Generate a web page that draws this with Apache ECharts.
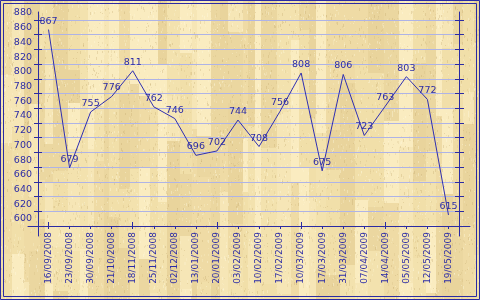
<!DOCTYPE html>
<html>
<head>
<meta charset="utf-8">
<script src="https://cdn.jsdelivr.net/npm/echarts@6/dist/echarts.min.js"></script>
<style>
html,body{margin:0;padding:0;}
#chart{width:480px;height:300px;}
</style>
</head>
<body>
<div id="chart"></div>
<script>
// ---- data ----
var categories = ['16/09/2008','23/09/2008','30/09/2008','21/10/2008','18/11/2008','25/11/2008','02/12/2008','13/01/2009','20/01/2009','03/02/2009','10/02/2009','17/02/2009','10/03/2009','17/03/2009','31/03/2009','07/04/2009','14/04/2009','05/05/2009','12/05/2009','19/05/2009'];
var values = [867, 679, 755, 776, 811, 762, 746, 696, 702, 744, 708, 756, 808, 675, 806, 723, 763, 803, 772, 615];
var yMin = 600, yMax = 880, yStep = 20;

// ---- decorative wood-like background ----
(function(){
  var c = document.createElement('canvas');
  c.width = 480; c.height = 300;
  var g = c.getContext('2d');
  var shades = ['#f1dfa9','#ebd7a0','#f6e6b6','#e9d49c','#faecc0','#efdba5','#f3e2ae'];
  g.fillStyle = '#f0dea8'; g.fillRect(0,0,480,300);
  var seed = 11;
  function h(){ seed = (seed * 1103515245 + 12345) % 2147483648; return seed / 2147483648; }
  var x = 0;
  while (x < 480) {
    var w = 5 + Math.floor(h()*12);
    var y = 0;
    while (y < 300) {
      var hh = 30 + Math.floor(h()*120);
      g.fillStyle = shades[Math.floor(h()*shades.length)];
      g.fillRect(x, y, w, hh);
      y += hh;
    }
    x += w;
  }
  for (var i = 0; i < 9000; i++) {
    g.fillStyle = h() < 0.5 ? 'rgba(190,160,100,0.15)' : 'rgba(255,250,225,0.22)';
    g.fillRect(Math.floor(h()*480), Math.floor(h()*300), 1, 1 + Math.floor(h()*3));
  }
  document.getElementById('chart').style.background = 'url(' + c.toDataURL() + ')';
})();

var dark = '#2b2ba3';
var txt = '#2c2ca6';
var font = 'DejaVu Sans';

var chart = echarts.init(document.getElementById('chart'), null, {renderer:'canvas'});
var yBase = {type:'value', min:yMin, max:yMax, interval:yStep, gridIndex:0,
  axisLabel:{show:false}, splitLine:{show:false}, axisLine:{show:false}};
chart.setOption({
  backgroundColor:'transparent',
  animation:false,
  grid:[
    {left:38, right:21, top:20, bottom:74},
    {left:28, right:10, top:20, bottom:74},
    {left:38, right:21, top:12, bottom:64}
  ],
  xAxis:[
    {type:'category', data:categories, gridIndex:0, position:'bottom', boundaryGap:true,
      axisLine:{show:false},
      axisTick:{show:true, alignWithLabel:true, length:3, inside:false, lineStyle:{color:dark}},
      axisLabel:{rotate:90, margin:6, fontSize:9, fontFamily:font, color:txt, interval:0}},
    {type:'category', data:categories, gridIndex:0, position:'bottom', boundaryGap:true,
      axisLine:{show:false},
      axisTick:{show:true, alignWithLabel:true, length:4, inside:true, lineStyle:{color:dark}},
      axisLabel:{show:false}},
    {type:'value', gridIndex:1, min:0, max:1, position:'bottom',
      axisLine:{show:true, lineStyle:{color:dark}}, axisTick:{show:false}, axisLabel:{show:false}, splitLine:{show:false}},
    {type:'value', gridIndex:2, min:0, max:1, show:false}
  ],
  yAxis:[
    Object.assign({}, yBase, {position:'left',
      axisLabel:{show:true, margin:6, fontSize:9.5, fontFamily:font, color:txt, verticalAlign:'bottom', padding:[0,0,2,0]},
      axisTick:{show:true, length:4, inside:false, lineStyle:{color:dark}},
      splitLine:{show:true, lineStyle:{color:'#aeb3e6', width:1}}}),
    Object.assign({}, yBase, {position:'left', axisTick:{show:true, length:4, inside:true, lineStyle:{color:dark}}}),
    Object.assign({}, yBase, {position:'right', axisTick:{show:true, length:5, inside:false, lineStyle:{color:dark}}}),
    Object.assign({}, yBase, {position:'right', axisTick:{show:true, length:4, inside:true, lineStyle:{color:dark}}}),
    {type:'value', gridIndex:1, min:0, max:1, show:false},
    {type:'value', gridIndex:2, min:0, max:1, position:'left',
      axisLine:{show:true, lineStyle:{color:dark}}, axisTick:{show:false}, axisLabel:{show:false}, splitLine:{show:false}},
    {type:'value', gridIndex:2, min:0, max:1, position:'right',
      axisLine:{show:true, lineStyle:{color:dark}}, axisTick:{show:false}, axisLabel:{show:false}, splitLine:{show:false}}
  ],
  series:[{
    type:'line', xAxisIndex:0, yAxisIndex:0, data:values,
    symbol:'circle', symbolSize:1, showSymbol:true,
    itemStyle:{color:'rgba(0,0,0,0)'},
    lineStyle:{color:'#2f2fb0', width:1},
    label:{show:true, position:'top', distance:3, color:txt, fontSize:9.5, fontFamily:font},
    z:5
  }],
  graphic:[
    {type:'rect', shape:{x:0.5, y:0.5, width:479, height:299}, style:{fill:null, stroke:dark, lineWidth:1}, silent:true},
    {type:'rect', shape:{x:3.5, y:3.5, width:473, height:293}, style:{fill:null, stroke:dark, lineWidth:1}, silent:true}
  ]
});
</script>
</body>
</html>
